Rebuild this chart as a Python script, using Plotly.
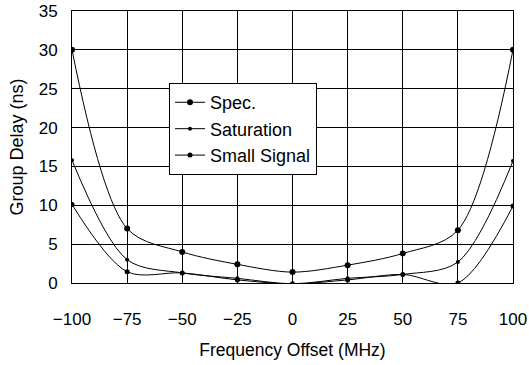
import plotly.graph_objects as go

# Frequency offsets (MHz)
freq = [-100, -75, -50, -25, 0, 25, 50, 75, 100]

# Group delay (ns) per curve
spec = [30, 7.0, 4.0, 2.4, 1.4, 2.3, 3.8, 6.8, 30]
saturation = [15.8, 3.0, 1.3, 0.6, -0.1, 0.6, 1.1, 2.7, 15.7]
small_signal = [10.1, 1.45, 1.3, 0.4, -0.1, 0.4, 1.1, 0.0, 9.9]

font_family = "Liberation Sans, Arial, sans-serif"

fig = go.Figure()
series = [
    ("Spec.", spec, "circle", 6),
    ("Saturation", saturation, "circle", 4),
    ("Small Signal", small_signal, "circle", 5),
]
for name, ys, sym, sz in series:
    fig.add_trace(go.Scatter(
        x=freq, y=ys, name=name, mode="lines+markers",
        line=dict(color="black", width=1, shape="spline", smoothing=0.9),
        marker=dict(color="black", size=sz, symbol=sym),
        cliponaxis=True,
    ))

fig.update_layout(
    width=529, height=365,
    margin=dict(l=72, r=16, t=11, b=82),
    paper_bgcolor="white", plot_bgcolor="white",
    font=dict(family=font_family, color="black", size=17),
    showlegend=True,
    legend=dict(
        x=0.22, y=0.735, xanchor="left", yanchor="top",
        bgcolor="white", bordercolor="black", borderwidth=1,
        font=dict(size=18), itemwidth=30, tracegroupgap=0,
    ),
)
fig.update_xaxes(
    range=[-100, 100], tickvals=freq, showgrid=True, gridcolor="black",
    gridwidth=1, showline=True, linecolor="black", linewidth=1, mirror=True,
    zeroline=False, ticks="", ticklabelstandoff=21, automargin=False,
    title=dict(text="Frequency Offset (MHz)", font=dict(size=17.5), standoff=15),
    tickfont=dict(size=17),
)
fig.update_yaxes(
    range=[0, 35], dtick=5, showgrid=True, gridcolor="black",
    gridwidth=1, showline=True, linecolor="black", linewidth=1, mirror=True,
    zeroline=False, ticks="", ticklabelstandoff=10, automargin=False,
    title=dict(text="Group Delay (ns)", font=dict(size=18), standoff=10),
    tickfont=dict(size=17),
)

fig.write_html("out.html")
